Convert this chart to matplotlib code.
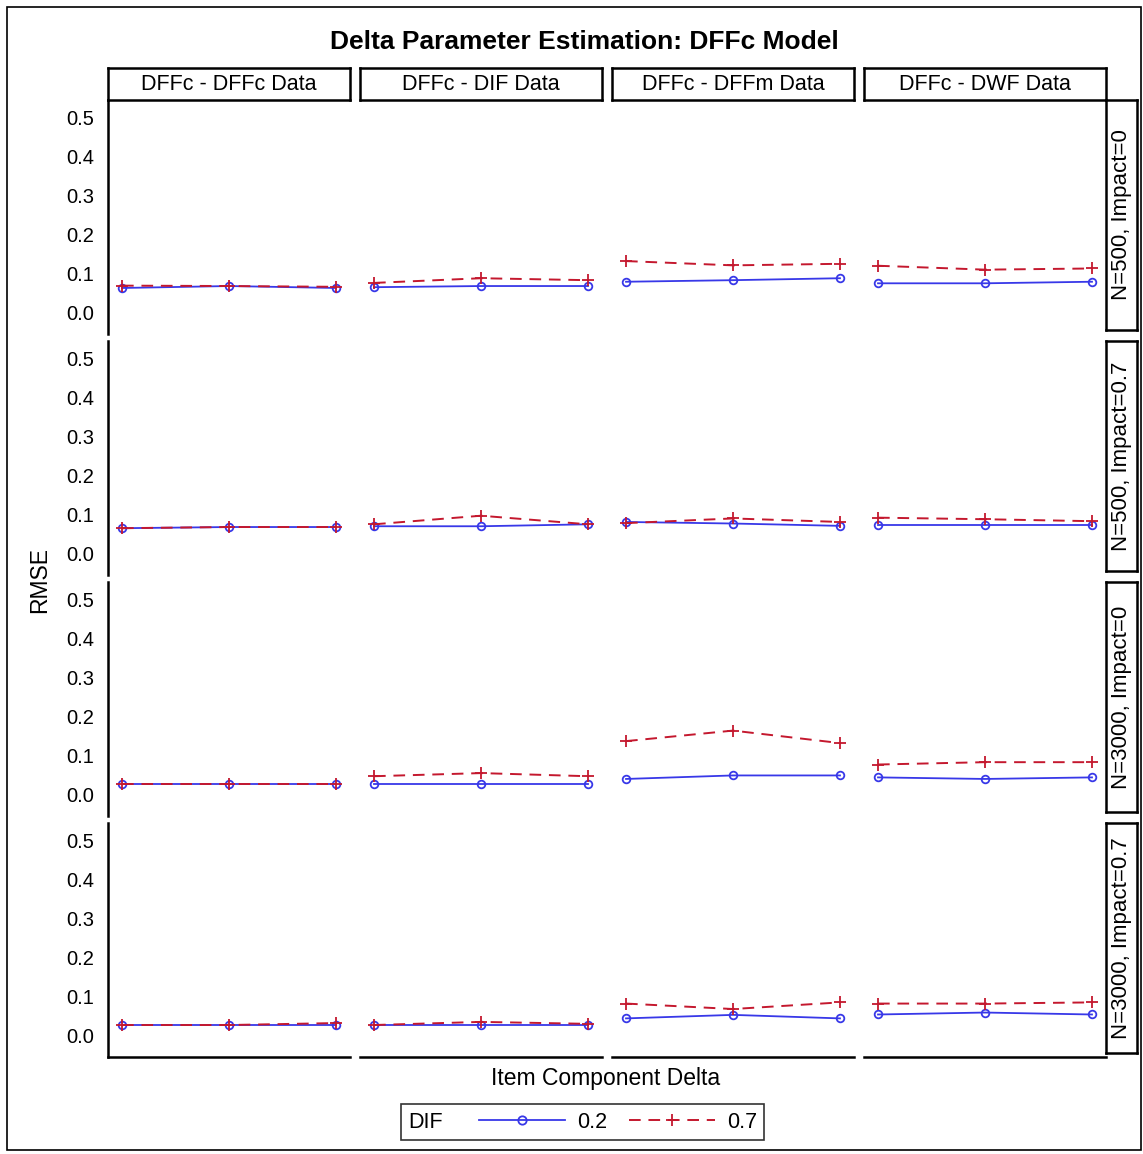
import matplotlib.pyplot as plt
from matplotlib.lines import Line2D
from matplotlib.patches import Rectangle
from matplotlib.offsetbox import HPacker

plt.rcParams['font.family'] = ['Liberation Sans', 'DejaVu Sans']

# item component delta levels (no tick labels in the original)
delta = [1, 2, 3]
columns = ['DFFc - DFFc Data', 'DFFc - DIF Data', 'DFFc - DFFm Data', 'DFFc - DWF Data']
rows = ['N=500, Impact=0', 'N=500, Impact=0.7', 'N=3000, Impact=0', 'N=3000, Impact=0.7']
y_ticks = [0.0, 0.1, 0.2, 0.3, 0.4, 0.5]

# RMSE for DIF = 0.2, one list per row, one triple per column
rmse_dif02 = [
    [[0.064, 0.069, 0.064], [0.066, 0.069, 0.069], [0.080, 0.084, 0.089], [0.076, 0.076, 0.080]],
    [[0.066, 0.069, 0.069], [0.071, 0.071, 0.076], [0.082, 0.078, 0.072], [0.074, 0.074, 0.074]],
    [[0.028, 0.028, 0.028], [0.029, 0.029, 0.029], [0.041, 0.050, 0.050], [0.045, 0.041, 0.045]],
    [[0.028, 0.028, 0.028], [0.028, 0.028, 0.028], [0.045, 0.054, 0.045], [0.055, 0.060, 0.055]],
]
# RMSE for DIF = 0.7
rmse_dif07 = [
    [[0.070, 0.069, 0.067], [0.077, 0.089, 0.084], [0.133, 0.122, 0.126], [0.121, 0.111, 0.114]],
    [[0.066, 0.069, 0.069], [0.076, 0.098, 0.076], [0.079, 0.091, 0.082], [0.093, 0.089, 0.084]],
    [[0.028, 0.028, 0.028], [0.048, 0.056, 0.048], [0.138, 0.165, 0.133], [0.078, 0.084, 0.084]],
    [[0.028, 0.028, 0.033], [0.028, 0.036, 0.031], [0.083, 0.069, 0.086], [0.083, 0.083, 0.086]],
]

blue = '#3838e8'
red = '#c4182e'

W, H = 1143, 1154
fig = plt.figure(figsize=(W / 100, H / 100), dpi=100)

def px_box(left, top, width, height):
    return [left / W, 1 - (top + height) / H, width / W, height / H]

col_left = [108, 360, 612, 864]
row_top = [100, 341, 582, 823]
pw, ph = 242, 234

for r in range(4):
    for c in range(4):
        ax = fig.add_axes(px_box(col_left[c], row_top[r], pw, ph))
        ax.plot(delta, rmse_dif02[r][c], color=blue, lw=1.3, marker='o', ms=5.5,
                mfc='none', mec=blue, mew=1.3)
        ax.plot(delta, rmse_dif07[r][c], color=red, lw=1.4, dashes=(6, 4), marker='+',
                ms=8, mec=red, mew=1.3)
        ax.set_xlim(0.869, 3.131)
        ax.set_ylim(-0.054, 0.546)
        ax.set_xticks([])
        ax.set_yticks(y_ticks)
        ax.tick_params(axis='y', length=0, pad=10, labelsize=14.5)
        for s in ['top', 'right']:
            ax.spines[s].set_visible(False)
        ax.spines['left'].set_visible(c == 0)
        ax.spines['bottom'].set_visible(r == 3)
        ax.spines['left'].set_linewidth(1.8)
        ax.spines['bottom'].set_linewidth(1.8)
        if c == 0:
            ax.set_yticklabels([f'{v:.1f}' for v in y_ticks])
        else:
            ax.set_yticklabels([])

# column strips
for c in range(4):
    sax = fig.add_axes(px_box(col_left[c], 68, pw, 32))
    sax.set_xticks([])
    sax.set_yticks([])
    for s in sax.spines.values():
        s.set_linewidth(1.8)
    sax.text(0.5, 0.5, columns[c], ha='center', va='center', fontsize=15.5,
             transform=sax.transAxes)

# row strips
for r in range(4):
    sax = fig.add_axes(px_box(1106, row_top[r], 31, ph - 4))
    sax.set_xticks([])
    sax.set_yticks([])
    for s in sax.spines.values():
        s.set_linewidth(1.8)
    sax.text(0.5, 0.5, rows[r], ha='center', va='center', rotation=90, fontsize=16,
             transform=sax.transAxes)

fig.text(584 / W, 1 - 42 / H, 'Delta Parameter Estimation: DFFc Model', ha='center',
         va='center', fontsize=19, fontweight='bold')
fig.text(40 / W, 1 - 580 / H, 'RMSE', ha='center', va='center', rotation=90, fontsize=16.5)
fig.text(606 / W, 1 - 1078 / H, 'Item Component Delta', ha='center', va='center', fontsize=16.5)

# outer frame
fig.patches.append(Rectangle((7 / W, 1 - 1150 / H), 1134 / W, 1143 / H, transform=fig.transFigure,
                             fill=False, edgecolor='black', lw=1.2))

# legend with the title to the left of the keys
fs = 15.5
handles = [Line2D([], [], color=blue, lw=1.3, marker='o', ms=6, mfc='none', mew=1.3),
           Line2D([], [], color=red, lw=1.4, dashes=(6, 4), marker='+', ms=9, mew=1.3)]
leg = fig.legend(handles, ['0.2', '0.7'], title='DIF', ncol=2, loc='center',
                 bbox_to_anchor=(582.5 / W, 1 - 1122 / H), fontsize=fs, title_fontsize=fs,
                 frameon=True, fancybox=False, edgecolor='black', handlelength=4.0,
                 columnspacing=1.0, borderpad=0.35, handletextpad=0.56)
leg.get_frame().set_linewidth(1.2)
new_box = HPacker(pad=leg.borderpad * fs, sep=1.68 * fs, align='baseline',
                  children=[leg._legend_title_box, leg._legend_handle_box])
new_box.set_figure(fig)
new_box.set_offset(leg._findoffset)
leg._legend_box = new_box

fig.savefig('out.png', dpi=100)
